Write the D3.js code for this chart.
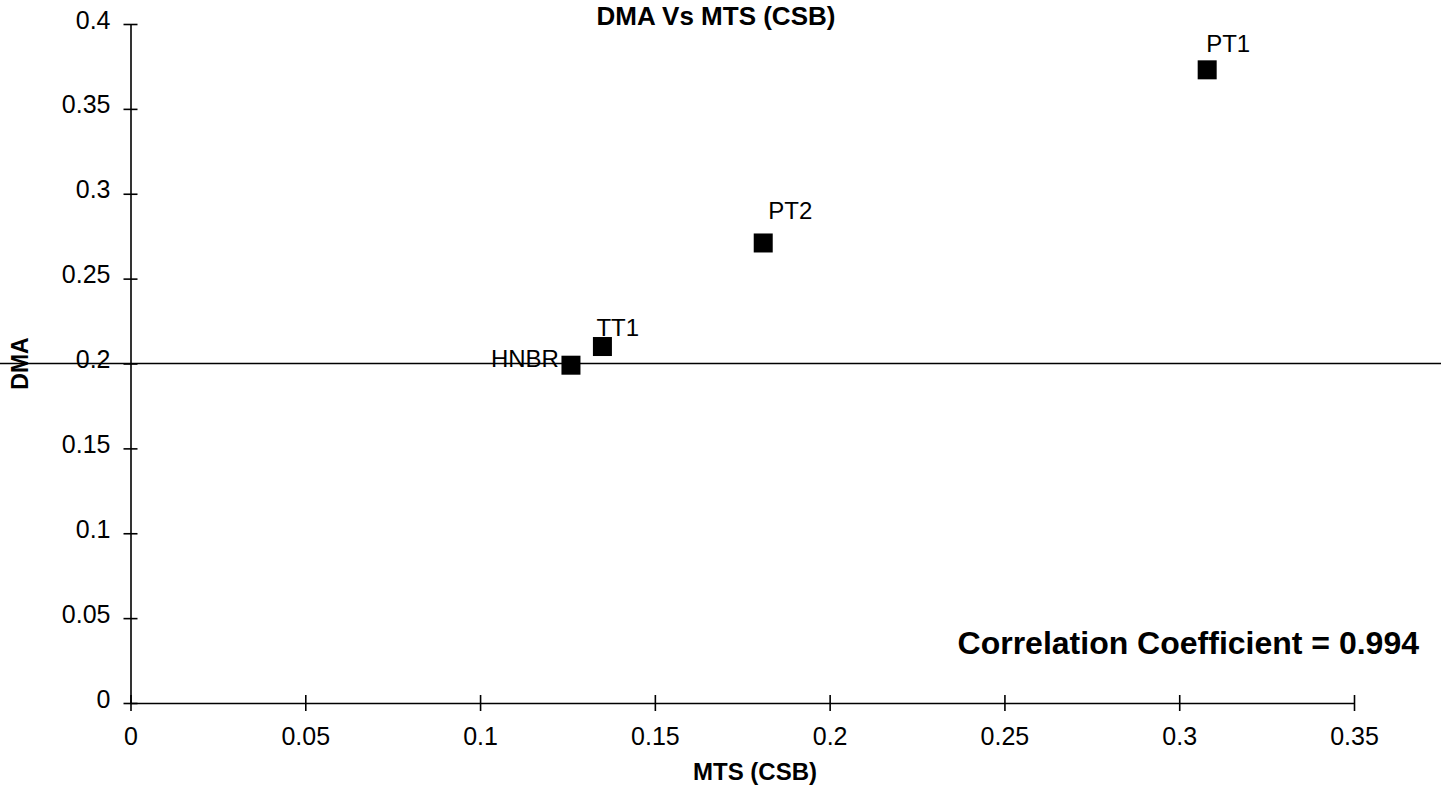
<!DOCTYPE html>
<html>
<head>
<meta charset="utf-8">
<script src="https://cdn.jsdelivr.net/npm/d3@7"></script>
<style>
  body { margin: 0; background: #fff; }
  text { font-family: "Liberation Sans", Arial, sans-serif; fill: #000; }
  .axis path, .axis line { stroke: #000; stroke-width: 1.6; }
  .axis text { font-size: 25px; }
</style>
</head>
<body>
<div id="scatter"></div>
<script>
// data
var names = ["HNBR", "TT1", "PT2", "PT1"];
var mts = [0.126, 0.135, 0.181, 0.308];   // x : MTS (CSB)
var dma = [0.199, 0.210, 0.271, 0.373];   // y : DMA
var xTicks = [0, 0.05, 0.1, 0.15, 0.2, 0.25, 0.3, 0.35];
var xTickLabels = ["0", "0.05", "0.1", "0.15", "0.2", "0.25", "0.3", "0.35"];
var yTicks = [0, 0.05, 0.1, 0.15, 0.2, 0.25, 0.3, 0.35, 0.4];
var yTickLabels = ["0", "0.05", "0.1", "0.15", "0.2", "0.25", "0.3", "0.35", "0.4"];
var refLine = 0.2;
var corrText = "Correlation Coefficient = 0.994";

// –––––––––––––– SVG CANVAS SETUP ––––––––––––––
var svgWidth = 1441;
var svgHeight = 806;

var svg = d3.select("#scatter")
	.append("svg")
	.attr("width", svgWidth)
	.attr("height", svgHeight);

// scales (pixel frame of the plot area)
var xScale = d3.scaleLinear().domain([0, 0.35]).range([130.5, 1354]);
var yScale = d3.scaleLinear().domain([0, 0.4]).range([703, 24]);

// horizontal line at 0.2, runs across the whole page
svg.append("line")
	.attr("x1", 0)
	.attr("x2", svgWidth)
	.attr("y1", yScale(refLine))
	.attr("y2", yScale(refLine))
	.attr("stroke", "#000")
	.attr("stroke-width", 1.5);

// axes - ticks cross the axis line
var bottomAxis = d3.axisBottom(xScale)
	.tickValues(xTicks)
	.tickFormat((d, i) => xTickLabels[i])
	.tickSize(0)
	.tickPadding(24);
var leftAxis = d3.axisLeft(yScale)
	.tickValues(yTicks)
	.tickFormat((d, i) => yTickLabels[i])
	.tickSize(0)
	.tickPadding(20);

var gx = svg.append("g")
	.attr("class", "axis")
	.attr("transform", `translate(0, ${yScale(0)})`)
	.call(bottomAxis);
gx.selectAll(".tick line").attr("y1", -8).attr("y2", 8);

var gy = svg.append("g")
	.attr("class", "axis")
	.attr("transform", `translate(${xScale(0)}, 0)`)
	.call(leftAxis);
gy.selectAll(".tick line").attr("x1", -7).attr("x2", 7);
gy.selectAll(".tick text").attr("dy", "0.16em");

// points
var pts = names.map((n, i) => ({ name: n, x: mts[i], y: dma[i] }));
var sq = 19;
svg.selectAll("rect.pt")
	.data(pts)
	.enter().append("rect")
	.attr("class", "pt")
	.attr("x", d => xScale(d.x) - sq / 2)
	.attr("y", d => yScale(d.y) - sq / 2)
	.attr("width", sq)
	.attr("height", sq)
	.attr("fill", "#000");

// point labels (HNBR sits left, rest above)
var labelAt = {
	HNBR: { dx: -12, dy: 2, anchor: "end" },
	TT1: { dx: -6, dy: -11, anchor: "start" },
	PT2: { dx: 5, dy: -24, anchor: "start" },
	PT1: { dx: -1, dy: -18, anchor: "start" }
};
svg.selectAll("text.lbl")
	.data(pts)
	.enter().append("text")
	.attr("class", "lbl")
	.attr("x", d => xScale(d.x) + labelAt[d.name].dx)
	.attr("y", d => yScale(d.y) + labelAt[d.name].dy)
	.attr("text-anchor", d => labelAt[d.name].anchor)
	.style("font-size", "24px")
	.text(d => d.name);

// titles
svg.append("text")
	.attr("x", 716)
	.attr("y", 25)
	.attr("text-anchor", "middle")
	.style("font-size", "26px")
	.style("font-weight", "bold")
	.text("DMA Vs MTS (CSB)");

svg.append("text")
	.attr("x", 755)
	.attr("y", 780)
	.attr("text-anchor", "middle")
	.style("font-size", "24px")
	.style("font-weight", "bold")
	.text("MTS (CSB)");

svg.append("text")
	.attr("transform", `translate(28, ${yScale(refLine)}) rotate(-90)`)
	.attr("text-anchor", "middle")
	.style("font-size", "23px")
	.style("font-weight", "bold")
	.text("DMA");

svg.append("text")
	.attr("x", 1419)
	.attr("y", 654)
	.attr("text-anchor", "end")
	.style("font-size", "32px")
	.style("font-weight", "bold")
	.text(corrText);
</script>
</body>
</html>
